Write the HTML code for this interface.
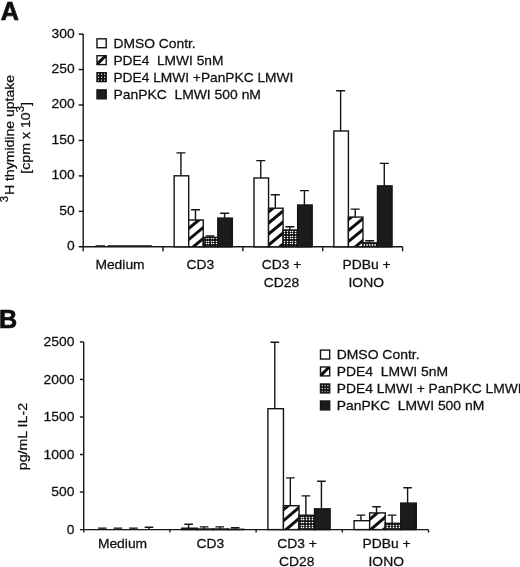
<!DOCTYPE html>
<html><head><meta charset="utf-8"><title>Figure</title>
<style>
html,body{margin:0;padding:0;background:#fff;}
body{width:520px;height:567px;overflow:hidden;}
svg{display:block;}
text{font-family:"Liberation Sans",Arial,Helvetica,sans-serif;fill:#111;stroke:#111;stroke-width:0.26px;}
</style></head><body>
<svg width="520" height="567" viewBox="0 0 520 567">
<defs>
<clipPath id="c0"><rect x="188.70" y="220.00" width="14.55" height="26.80"/></clipPath>
<clipPath id="c1"><rect x="268.55" y="208.20" width="14.55" height="38.60"/></clipPath>
<clipPath id="c2"><rect x="348.40" y="217.10" width="14.55" height="29.70"/></clipPath>
<clipPath id="c3"><rect x="197.25" y="529.00" width="15.55" height="0.60"/></clipPath>
<clipPath id="c4"><rect x="283.45" y="505.70" width="15.55" height="23.90"/></clipPath>
<clipPath id="c5"><rect x="369.65" y="512.90" width="15.55" height="16.70"/></clipPath>
<pattern id="dots" x="0" y="0" width="21" height="20" patternUnits="userSpaceOnUse"><rect width="21" height="20" fill="#111"/><g fill="#fff"><circle cx="1.5" cy="1.5" r="0.8"/><circle cx="3.5" cy="1.5" r="0.8"/><circle cx="6.5" cy="1.5" r="0.8"/><circle cx="9.5" cy="1.5" r="0.8"/><circle cx="11.5" cy="1.5" r="0.8"/><circle cx="14.5" cy="1.5" r="0.8"/><circle cx="17.5" cy="1.5" r="0.8"/><circle cx="19.5" cy="1.5" r="0.8"/><circle cx="1.5" cy="3.5" r="0.8"/><circle cx="3.5" cy="3.5" r="0.8"/><circle cx="6.5" cy="3.5" r="0.8"/><circle cx="9.5" cy="3.5" r="0.8"/><circle cx="11.5" cy="3.5" r="0.8"/><circle cx="14.5" cy="3.5" r="0.8"/><circle cx="17.5" cy="3.5" r="0.8"/><circle cx="19.5" cy="3.5" r="0.8"/><circle cx="1.5" cy="6.5" r="0.8"/><circle cx="3.5" cy="6.5" r="0.8"/><circle cx="6.5" cy="6.5" r="0.8"/><circle cx="9.5" cy="6.5" r="0.8"/><circle cx="11.5" cy="6.5" r="0.8"/><circle cx="14.5" cy="6.5" r="0.8"/><circle cx="17.5" cy="6.5" r="0.8"/><circle cx="19.5" cy="6.5" r="0.8"/><circle cx="1.5" cy="8.5" r="0.8"/><circle cx="3.5" cy="8.5" r="0.8"/><circle cx="6.5" cy="8.5" r="0.8"/><circle cx="9.5" cy="8.5" r="0.8"/><circle cx="11.5" cy="8.5" r="0.8"/><circle cx="14.5" cy="8.5" r="0.8"/><circle cx="17.5" cy="8.5" r="0.8"/><circle cx="19.5" cy="8.5" r="0.8"/><circle cx="1.5" cy="11.5" r="0.8"/><circle cx="3.5" cy="11.5" r="0.8"/><circle cx="6.5" cy="11.5" r="0.8"/><circle cx="9.5" cy="11.5" r="0.8"/><circle cx="11.5" cy="11.5" r="0.8"/><circle cx="14.5" cy="11.5" r="0.8"/><circle cx="17.5" cy="11.5" r="0.8"/><circle cx="19.5" cy="11.5" r="0.8"/><circle cx="1.5" cy="13.5" r="0.8"/><circle cx="3.5" cy="13.5" r="0.8"/><circle cx="6.5" cy="13.5" r="0.8"/><circle cx="9.5" cy="13.5" r="0.8"/><circle cx="11.5" cy="13.5" r="0.8"/><circle cx="14.5" cy="13.5" r="0.8"/><circle cx="17.5" cy="13.5" r="0.8"/><circle cx="19.5" cy="13.5" r="0.8"/><circle cx="1.5" cy="16.5" r="0.8"/><circle cx="3.5" cy="16.5" r="0.8"/><circle cx="6.5" cy="16.5" r="0.8"/><circle cx="9.5" cy="16.5" r="0.8"/><circle cx="11.5" cy="16.5" r="0.8"/><circle cx="14.5" cy="16.5" r="0.8"/><circle cx="17.5" cy="16.5" r="0.8"/><circle cx="19.5" cy="16.5" r="0.8"/><circle cx="1.5" cy="18.5" r="0.8"/><circle cx="3.5" cy="18.5" r="0.8"/><circle cx="6.5" cy="18.5" r="0.8"/><circle cx="9.5" cy="18.5" r="0.8"/><circle cx="11.5" cy="18.5" r="0.8"/><circle cx="14.5" cy="18.5" r="0.8"/><circle cx="17.5" cy="18.5" r="0.8"/><circle cx="19.5" cy="18.5" r="0.8"/></g></pattern>
<pattern id="dotsB" x="0" y="0" width="28" height="27" patternUnits="userSpaceOnUse"><rect width="28" height="27" fill="#111"/><g fill="#fff"><circle cx="1.5" cy="1.5" r="0.85"/><circle cx="4.5" cy="1.5" r="0.85"/><circle cx="7.5" cy="1.5" r="0.85"/><circle cx="9.5" cy="1.5" r="0.85"/><circle cx="12.5" cy="1.5" r="0.85"/><circle cx="15.5" cy="1.5" r="0.85"/><circle cx="18.5" cy="1.5" r="0.85"/><circle cx="21.5" cy="1.5" r="0.85"/><circle cx="23.5" cy="1.5" r="0.85"/><circle cx="26.5" cy="1.5" r="0.85"/><circle cx="1.5" cy="4.5" r="0.85"/><circle cx="4.5" cy="4.5" r="0.85"/><circle cx="7.5" cy="4.5" r="0.85"/><circle cx="9.5" cy="4.5" r="0.85"/><circle cx="12.5" cy="4.5" r="0.85"/><circle cx="15.5" cy="4.5" r="0.85"/><circle cx="18.5" cy="4.5" r="0.85"/><circle cx="21.5" cy="4.5" r="0.85"/><circle cx="23.5" cy="4.5" r="0.85"/><circle cx="26.5" cy="4.5" r="0.85"/><circle cx="1.5" cy="6.5" r="0.85"/><circle cx="4.5" cy="6.5" r="0.85"/><circle cx="7.5" cy="6.5" r="0.85"/><circle cx="9.5" cy="6.5" r="0.85"/><circle cx="12.5" cy="6.5" r="0.85"/><circle cx="15.5" cy="6.5" r="0.85"/><circle cx="18.5" cy="6.5" r="0.85"/><circle cx="21.5" cy="6.5" r="0.85"/><circle cx="23.5" cy="6.5" r="0.85"/><circle cx="26.5" cy="6.5" r="0.85"/><circle cx="1.5" cy="9.5" r="0.85"/><circle cx="4.5" cy="9.5" r="0.85"/><circle cx="7.5" cy="9.5" r="0.85"/><circle cx="9.5" cy="9.5" r="0.85"/><circle cx="12.5" cy="9.5" r="0.85"/><circle cx="15.5" cy="9.5" r="0.85"/><circle cx="18.5" cy="9.5" r="0.85"/><circle cx="21.5" cy="9.5" r="0.85"/><circle cx="23.5" cy="9.5" r="0.85"/><circle cx="26.5" cy="9.5" r="0.85"/><circle cx="1.5" cy="12.5" r="0.85"/><circle cx="4.5" cy="12.5" r="0.85"/><circle cx="7.5" cy="12.5" r="0.85"/><circle cx="9.5" cy="12.5" r="0.85"/><circle cx="12.5" cy="12.5" r="0.85"/><circle cx="15.5" cy="12.5" r="0.85"/><circle cx="18.5" cy="12.5" r="0.85"/><circle cx="21.5" cy="12.5" r="0.85"/><circle cx="23.5" cy="12.5" r="0.85"/><circle cx="26.5" cy="12.5" r="0.85"/><circle cx="1.5" cy="14.5" r="0.85"/><circle cx="4.5" cy="14.5" r="0.85"/><circle cx="7.5" cy="14.5" r="0.85"/><circle cx="9.5" cy="14.5" r="0.85"/><circle cx="12.5" cy="14.5" r="0.85"/><circle cx="15.5" cy="14.5" r="0.85"/><circle cx="18.5" cy="14.5" r="0.85"/><circle cx="21.5" cy="14.5" r="0.85"/><circle cx="23.5" cy="14.5" r="0.85"/><circle cx="26.5" cy="14.5" r="0.85"/><circle cx="1.5" cy="17.5" r="0.85"/><circle cx="4.5" cy="17.5" r="0.85"/><circle cx="7.5" cy="17.5" r="0.85"/><circle cx="9.5" cy="17.5" r="0.85"/><circle cx="12.5" cy="17.5" r="0.85"/><circle cx="15.5" cy="17.5" r="0.85"/><circle cx="18.5" cy="17.5" r="0.85"/><circle cx="21.5" cy="17.5" r="0.85"/><circle cx="23.5" cy="17.5" r="0.85"/><circle cx="26.5" cy="17.5" r="0.85"/><circle cx="1.5" cy="20.5" r="0.85"/><circle cx="4.5" cy="20.5" r="0.85"/><circle cx="7.5" cy="20.5" r="0.85"/><circle cx="9.5" cy="20.5" r="0.85"/><circle cx="12.5" cy="20.5" r="0.85"/><circle cx="15.5" cy="20.5" r="0.85"/><circle cx="18.5" cy="20.5" r="0.85"/><circle cx="21.5" cy="20.5" r="0.85"/><circle cx="23.5" cy="20.5" r="0.85"/><circle cx="26.5" cy="20.5" r="0.85"/><circle cx="1.5" cy="22.5" r="0.85"/><circle cx="4.5" cy="22.5" r="0.85"/><circle cx="7.5" cy="22.5" r="0.85"/><circle cx="9.5" cy="22.5" r="0.85"/><circle cx="12.5" cy="22.5" r="0.85"/><circle cx="15.5" cy="22.5" r="0.85"/><circle cx="18.5" cy="22.5" r="0.85"/><circle cx="21.5" cy="22.5" r="0.85"/><circle cx="23.5" cy="22.5" r="0.85"/><circle cx="26.5" cy="22.5" r="0.85"/><circle cx="1.5" cy="25.5" r="0.85"/><circle cx="4.5" cy="25.5" r="0.85"/><circle cx="7.5" cy="25.5" r="0.85"/><circle cx="9.5" cy="25.5" r="0.85"/><circle cx="12.5" cy="25.5" r="0.85"/><circle cx="15.5" cy="25.5" r="0.85"/><circle cx="18.5" cy="25.5" r="0.85"/><circle cx="21.5" cy="25.5" r="0.85"/><circle cx="23.5" cy="25.5" r="0.85"/><circle cx="26.5" cy="25.5" r="0.85"/></g></pattern>
<filter id="soft" x="0" y="0" width="520" height="567" filterUnits="userSpaceOnUse"><feGaussianBlur stdDeviation="0.38"/></filter>
</defs>
<rect width="520" height="567" fill="#fff"/>
<g filter="url(#soft)">

<text x="0.8" y="20.2" font-size="25.2" font-weight="bold" style="stroke-width:0.7px">A</text>
<path d="M83.2 34.1V251.3M78.7 246.8H402.60" stroke="#141414" stroke-width="1.4" fill="none"/>
<text transform="translate(74.60 250.20) scale(1.05 1)" font-size="13.2" text-anchor="end" xml:space="preserve">0</text>
<path d="M78.7 211.35H83.2" stroke="#141414" stroke-width="1.4"/>
<text transform="translate(74.60 214.75) scale(1.05 1)" font-size="13.2" text-anchor="end" xml:space="preserve">50</text>
<path d="M78.7 175.90H83.2" stroke="#141414" stroke-width="1.4"/>
<text transform="translate(74.60 179.30) scale(1.05 1)" font-size="13.2" text-anchor="end" xml:space="preserve">100</text>
<path d="M78.7 140.45H83.2" stroke="#141414" stroke-width="1.4"/>
<text transform="translate(74.60 143.85) scale(1.05 1)" font-size="13.2" text-anchor="end" xml:space="preserve">150</text>
<path d="M78.7 105.00H83.2" stroke="#141414" stroke-width="1.4"/>
<text transform="translate(74.60 108.40) scale(1.05 1)" font-size="13.2" text-anchor="end" xml:space="preserve">200</text>
<path d="M78.7 69.55H83.2" stroke="#141414" stroke-width="1.4"/>
<text transform="translate(74.60 72.95) scale(1.05 1)" font-size="13.2" text-anchor="end" xml:space="preserve">250</text>
<path d="M78.7 34.10H83.2" stroke="#141414" stroke-width="1.4"/>
<text transform="translate(74.60 37.50) scale(1.05 1)" font-size="13.2" text-anchor="end" xml:space="preserve">300</text>
<path d="M163.05 246.8V251.3" stroke="#141414" stroke-width="1.4"/>
<path d="M242.90 246.8V251.3" stroke="#141414" stroke-width="1.4"/>
<path d="M322.75 246.8V251.3" stroke="#141414" stroke-width="1.4"/>
<path d="M402.60 246.8V251.3" stroke="#141414" stroke-width="1.4"/>
<path d="M180.93 175.80V152.90M176.43 152.90H185.43" stroke="#141414" stroke-width="1.4" fill="none"/>
<rect x="174.15" y="175.80" width="14.55" height="71.00" fill="#fff" stroke="#141414" stroke-width="1.4"/>
<path d="M195.48 220.00V209.70M190.98 209.70H199.98" stroke="#141414" stroke-width="1.4" fill="none"/>
<rect x="188.70" y="220.00" width="14.55" height="26.80" fill="#fff"/><path d="M185.70 208.92L206.25 191.98M185.70 219.94L206.25 203.00M185.70 230.96L206.25 214.02M185.70 241.97L206.25 225.03M185.70 252.99L206.25 236.05M185.70 264.00L206.25 247.06M185.70 275.02L206.25 258.08" stroke="#111" stroke-width="3.0" fill="none" clip-path="url(#c0)"/><rect x="188.70" y="220.00" width="14.55" height="26.80" fill="none" stroke="#141414" stroke-width="1.4"/>
<path d="M210.03 237.40V236.00M205.53 236.00H214.53" stroke="#141414" stroke-width="1.4" fill="none"/>
<rect x="203.25" y="237.40" width="14.55" height="9.40" fill="url(#dots)" stroke="#141414" stroke-width="1.4"/>
<path d="M224.58 218.10V213.30M220.08 213.30H229.08" stroke="#141414" stroke-width="1.4" fill="none"/>
<rect x="217.80" y="218.10" width="14.55" height="28.70" fill="#1a1a1a" stroke="#141414" stroke-width="1.4"/>
<path d="M260.77 178.00V160.60M256.27 160.60H265.27" stroke="#141414" stroke-width="1.4" fill="none"/>
<rect x="254.00" y="178.00" width="14.55" height="68.80" fill="#fff" stroke="#141414" stroke-width="1.4"/>
<path d="M275.32 208.20V194.70M270.82 194.70H279.82" stroke="#141414" stroke-width="1.4" fill="none"/>
<rect x="268.55" y="208.20" width="14.55" height="38.60" fill="#fff"/><path d="M265.55 192.41L286.10 175.47M265.55 203.43L286.10 186.49M265.55 214.45L286.10 197.51M265.55 225.46L286.10 208.52M265.55 236.48L286.10 219.54M265.55 247.49L286.10 230.55M265.55 258.51L286.10 241.57M265.55 269.52L286.10 252.58M265.55 280.54L286.10 263.60" stroke="#111" stroke-width="3.0" fill="none" clip-path="url(#c1)"/><rect x="268.55" y="208.20" width="14.55" height="38.60" fill="none" stroke="#141414" stroke-width="1.4"/>
<path d="M289.87 230.00V226.70M285.37 226.70H294.37" stroke="#141414" stroke-width="1.4" fill="none"/>
<rect x="283.10" y="230.00" width="14.55" height="16.80" fill="url(#dots)" stroke="#141414" stroke-width="1.4"/>
<path d="M304.42 205.00V190.60M299.92 190.60H308.92" stroke="#141414" stroke-width="1.4" fill="none"/>
<rect x="297.65" y="205.00" width="14.55" height="41.80" fill="#1a1a1a" stroke="#141414" stroke-width="1.4"/>
<path d="M340.62 131.00V90.70M336.12 90.70H345.12" stroke="#141414" stroke-width="1.4" fill="none"/>
<rect x="333.85" y="131.00" width="14.55" height="115.80" fill="#fff" stroke="#141414" stroke-width="1.4"/>
<path d="M355.18 217.10V209.10M350.68 209.10H359.68" stroke="#141414" stroke-width="1.4" fill="none"/>
<rect x="348.40" y="217.10" width="14.55" height="29.70" fill="#fff"/><path d="M345.40 199.96L365.95 183.02M345.40 210.97L365.95 194.03M345.40 221.99L365.95 205.05M345.40 233.00L365.95 216.06M345.40 244.02L365.95 227.08M345.40 255.03L365.95 238.09M345.40 266.05L365.95 249.11M345.40 277.07L365.95 260.13" stroke="#111" stroke-width="3.0" fill="none" clip-path="url(#c2)"/><rect x="348.40" y="217.10" width="14.55" height="29.70" fill="none" stroke="#141414" stroke-width="1.4"/>
<path d="M369.73 242.80V240.70M365.23 240.70H374.23" stroke="#141414" stroke-width="1.4" fill="none"/>
<rect x="362.95" y="242.80" width="14.55" height="4.00" fill="#111" stroke="#141414" stroke-width="1.4"/><circle cx="364.37" cy="244.90" r="0.85" fill="#fff"/><circle cx="367.05" cy="244.90" r="0.85" fill="#fff"/><circle cx="369.73" cy="244.90" r="0.85" fill="#fff"/><circle cx="372.41" cy="244.90" r="0.85" fill="#fff"/><circle cx="375.09" cy="244.90" r="0.85" fill="#fff"/>
<path d="M384.27 185.90V163.40M379.77 163.40H388.77" stroke="#141414" stroke-width="1.4" fill="none"/>
<rect x="377.50" y="185.90" width="14.55" height="60.90" fill="#1a1a1a" stroke="#141414" stroke-width="1.4"/>
<path d="M95.6 246.0H105M107.7 246.0H151.8" stroke="#141414" stroke-width="1.6"/>
<rect x="97.00" y="38.80" width="9.20" height="8.90" fill="#fff" stroke="#141414" stroke-width="1.4"/>
<text transform="translate(113.40 48.30) scale(1.05 1)" font-size="13.2" text-anchor="start" xml:space="preserve">DMSO Contr.</text>
<rect x="97.00" y="55.70" width="9.20" height="8.90" fill="#fff" stroke="#141414" stroke-width="1.4"/>
<path d="M97.00 64.60L97.00 62.10L103.60 55.70L106.20 55.70L106.20 57.20L99.00 64.60Z" fill="#111"/>
<text transform="translate(113.40 65.30) scale(1.043 1)" font-size="13.2" text-anchor="start" xml:space="preserve">PDE4  LMWI 5nM</text>
<rect x="97.00" y="72.70" width="9.20" height="8.90" fill="#111" stroke="#141414" stroke-width="1.4"/>
<circle cx="98.65" cy="74.20" r="0.62" fill="#fff"/>
<circle cx="98.65" cy="77.15" r="0.62" fill="#fff"/>
<circle cx="98.65" cy="80.10" r="0.62" fill="#fff"/>
<circle cx="101.60" cy="74.20" r="0.62" fill="#fff"/>
<circle cx="101.60" cy="77.15" r="0.62" fill="#fff"/>
<circle cx="101.60" cy="80.10" r="0.62" fill="#fff"/>
<circle cx="104.55" cy="74.20" r="0.62" fill="#fff"/>
<circle cx="104.55" cy="77.15" r="0.62" fill="#fff"/>
<circle cx="104.55" cy="80.10" r="0.62" fill="#fff"/>
<text transform="translate(113.40 82.20) scale(1.043 1)" font-size="13.2" text-anchor="start" xml:space="preserve">PDE4 LMWI +PanPKC LMWI</text>
<rect x="97.00" y="89.90" width="9.20" height="8.90" fill="#1a1a1a" stroke="#141414" stroke-width="1.4"/>
<text transform="translate(113.40 99.10) scale(1.054 1)" font-size="13.2" text-anchor="start" xml:space="preserve">PanPKC  LMWI 500 nM</text>
<text transform="translate(120.00 268.90) scale(1.05 1)" font-size="13.2" text-anchor="middle" xml:space="preserve">Medium</text>
<text transform="translate(200.30 268.90) scale(1.05 1)" font-size="13.2" text-anchor="middle" xml:space="preserve">CD3</text>
<text transform="translate(281.60 268.70) scale(1.05 1)" font-size="13.2" text-anchor="middle" xml:space="preserve">CD3 +</text>
<text transform="translate(281.40 286.60) scale(1.05 1)" font-size="13.2" text-anchor="middle" xml:space="preserve">CD28</text>
<text transform="translate(366.60 268.70) scale(1.05 1)" font-size="13.2" text-anchor="middle" xml:space="preserve">PDBu +</text>
<text transform="translate(366.20 286.60) scale(1.05 1)" font-size="13.2" text-anchor="middle" xml:space="preserve">IONO</text>
<text transform="translate(13.60 138.60) rotate(-90) scale(1.066 1)" font-size="13.2" text-anchor="middle" xml:space="preserve"><tspan font-size="10.6" dy="-6">3</tspan><tspan dy="6" dx="0.9">H thymidine uptake</tspan></text>
<text transform="translate(30.00 137.90) rotate(-90) scale(1.075 1)" font-size="13.2" text-anchor="middle" xml:space="preserve">[cpm x 10<tspan font-size="10.6" dy="-6">3</tspan><tspan dy="6">]</tspan></text>
<text x="-1.0" y="327.8" font-size="25.2" font-weight="bold" style="stroke-width:0.7px">B</text>
<path d="M83.7 341.9V532.6M79.9 529.6H428.50" stroke="#141414" stroke-width="1.4" fill="none"/>
<text transform="translate(74.40 533.90) scale(1.05 1)" font-size="13.2" text-anchor="end" xml:space="preserve">0</text>
<path d="M79.9 492.06H83.7" stroke="#141414" stroke-width="1.4"/>
<text transform="translate(74.40 496.36) scale(1.05 1)" font-size="13.2" text-anchor="end" xml:space="preserve">500</text>
<path d="M79.9 454.52H83.7" stroke="#141414" stroke-width="1.4"/>
<text transform="translate(74.40 458.82) scale(1.05 1)" font-size="13.2" text-anchor="end" xml:space="preserve">1000</text>
<path d="M79.9 416.98H83.7" stroke="#141414" stroke-width="1.4"/>
<text transform="translate(74.40 421.28) scale(1.05 1)" font-size="13.2" text-anchor="end" xml:space="preserve">1500</text>
<path d="M79.9 379.44H83.7" stroke="#141414" stroke-width="1.4"/>
<text transform="translate(74.40 383.74) scale(1.05 1)" font-size="13.2" text-anchor="end" xml:space="preserve">2000</text>
<path d="M79.9 341.90H83.7" stroke="#141414" stroke-width="1.4"/>
<text transform="translate(74.40 346.20) scale(1.05 1)" font-size="13.2" text-anchor="end" xml:space="preserve">2500</text>
<path d="M169.90 529.6V532.6" stroke="#141414" stroke-width="1.4"/>
<path d="M256.10 529.6V532.6" stroke="#141414" stroke-width="1.4"/>
<path d="M342.30 529.6V532.6" stroke="#141414" stroke-width="1.4"/>
<path d="M428.50 529.6V532.6" stroke="#141414" stroke-width="1.4"/>
<path d="M102.38 529.30V528.10M98.08 528.10H106.67" stroke="#141414" stroke-width="1.4" fill="none"/>
<path d="M117.92 529.30V528.10M113.62 528.10H122.22" stroke="#141414" stroke-width="1.4" fill="none"/>
<path d="M133.47 529.30V528.10M129.17 528.10H137.78" stroke="#141414" stroke-width="1.4" fill="none"/>
<path d="M149.03 529.10V527.30M144.72 527.30H153.33" stroke="#141414" stroke-width="1.4" fill="none"/>
<path d="M188.58 528.20V524.30M184.28 524.30H192.88" stroke="#141414" stroke-width="1.4" fill="none"/>
<rect x="181.70" y="528.20" width="15.55" height="1.40" fill="#fff" stroke="#141414" stroke-width="1.4"/>
<path d="M204.13 529.00V526.90M199.83 526.90H208.43" stroke="#141414" stroke-width="1.4" fill="none"/>
<rect x="197.25" y="529.00" width="15.55" height="0.60" fill="#fff"/><path d="M194.25 520.06L215.80 501.65M194.25 531.04L215.80 512.64M194.25 542.02L215.80 523.62M194.25 553.00L215.80 534.60M194.25 563.98L215.80 545.58" stroke="#111" stroke-width="3.0" fill="none" clip-path="url(#c3)"/><rect x="197.25" y="529.00" width="15.55" height="0.60" fill="none" stroke="#141414" stroke-width="1.4"/>
<path d="M219.68 529.00V526.90M215.38 526.90H223.98" stroke="#141414" stroke-width="1.4" fill="none"/>
<rect x="212.80" y="529.00" width="15.55" height="0.60" fill="url(#dotsB)" stroke="#141414" stroke-width="1.4"/>
<path d="M235.23 529.30V527.70M230.93 527.70H239.53" stroke="#141414" stroke-width="1.4" fill="none"/>
<rect x="228.35" y="529.30" width="15.55" height="0.30" fill="#1a1a1a" stroke="#141414" stroke-width="1.4"/>
<path d="M274.78 408.70V342.30M270.48 342.30H279.08" stroke="#141414" stroke-width="1.4" fill="none"/>
<rect x="267.90" y="408.70" width="15.55" height="120.90" fill="#fff" stroke="#141414" stroke-width="1.4"/>
<path d="M290.33 505.70V477.90M286.03 477.90H294.63" stroke="#141414" stroke-width="1.4" fill="none"/>
<rect x="283.45" y="505.70" width="15.55" height="23.90" fill="#fff"/><path d="M280.45 490.36L302.00 471.96M280.45 501.34L302.00 482.94M280.45 512.32L302.00 493.92M280.45 523.30L302.00 504.90M280.45 534.29L302.00 515.88M280.45 545.27L302.00 526.86M280.45 556.25L302.00 537.84M280.45 567.23L302.00 548.82" stroke="#111" stroke-width="3.0" fill="none" clip-path="url(#c4)"/><rect x="283.45" y="505.70" width="15.55" height="23.90" fill="none" stroke="#141414" stroke-width="1.4"/>
<path d="M305.88 515.20V495.90M301.58 495.90H310.18" stroke="#141414" stroke-width="1.4" fill="none"/>
<rect x="299.00" y="515.20" width="15.55" height="14.40" fill="url(#dotsB)" stroke="#141414" stroke-width="1.4"/>
<path d="M321.43 508.80V481.20M317.13 481.20H325.73" stroke="#141414" stroke-width="1.4" fill="none"/>
<rect x="314.55" y="508.80" width="15.55" height="20.80" fill="#1a1a1a" stroke="#141414" stroke-width="1.4"/>
<path d="M360.98 520.70V515.10M356.68 515.10H365.28" stroke="#141414" stroke-width="1.4" fill="none"/>
<rect x="354.10" y="520.70" width="15.55" height="8.90" fill="#fff" stroke="#141414" stroke-width="1.4"/>
<path d="M376.53 512.90V506.80M372.23 506.80H380.83" stroke="#141414" stroke-width="1.4" fill="none"/>
<rect x="369.65" y="512.90" width="15.55" height="16.70" fill="#fff"/><path d="M366.65 500.07L388.20 481.67M366.65 511.05L388.20 492.65M366.65 522.03L388.20 503.63M366.65 533.02L388.20 514.61M366.65 544.00L388.20 525.59M366.65 554.98L388.20 536.57M366.65 565.96L388.20 547.55" stroke="#111" stroke-width="3.0" fill="none" clip-path="url(#c5)"/><rect x="369.65" y="512.90" width="15.55" height="16.70" fill="none" stroke="#141414" stroke-width="1.4"/>
<path d="M392.08 523.30V515.10M387.78 515.10H396.38" stroke="#141414" stroke-width="1.4" fill="none"/>
<rect x="385.20" y="523.30" width="15.55" height="6.30" fill="url(#dotsB)" stroke="#141414" stroke-width="1.4"/>
<path d="M407.62 503.10V487.80M403.32 487.80H411.93" stroke="#141414" stroke-width="1.4" fill="none"/>
<rect x="400.75" y="503.10" width="15.55" height="26.50" fill="#1a1a1a" stroke="#141414" stroke-width="1.4"/>
<rect x="320.50" y="350.10" width="9.20" height="8.90" fill="#fff" stroke="#141414" stroke-width="1.4"/>
<text transform="translate(336.70 359.10) scale(1.056 1)" font-size="13.2" text-anchor="start" xml:space="preserve">DMSO Contr.</text>
<rect x="320.50" y="367.00" width="9.20" height="8.90" fill="#fff" stroke="#141414" stroke-width="1.4"/>
<path d="M320.50 375.90L320.50 373.40L327.10 367.00L329.70 367.00L329.70 368.50L322.50 375.90Z" fill="#111"/>
<text transform="translate(336.70 376.00) scale(1.056 1)" font-size="13.2" text-anchor="start" xml:space="preserve">PDE4  LMWI 5nM</text>
<rect x="320.50" y="384.00" width="9.20" height="8.90" fill="#111" stroke="#141414" stroke-width="1.4"/>
<circle cx="322.30" cy="385.65" r="0.62" fill="#fff"/>
<circle cx="322.30" cy="388.45" r="0.62" fill="#fff"/>
<circle cx="322.30" cy="391.25" r="0.62" fill="#fff"/>
<circle cx="325.10" cy="385.65" r="0.62" fill="#fff"/>
<circle cx="325.10" cy="388.45" r="0.62" fill="#fff"/>
<circle cx="325.10" cy="391.25" r="0.62" fill="#fff"/>
<circle cx="327.90" cy="385.65" r="0.62" fill="#fff"/>
<circle cx="327.90" cy="388.45" r="0.62" fill="#fff"/>
<circle cx="327.90" cy="391.25" r="0.62" fill="#fff"/>
<text transform="translate(336.70 392.90) scale(1.05 1)" font-size="13.2" text-anchor="start" xml:space="preserve">PDE4 LMWI + PanPKC LMWI</text>
<rect x="320.50" y="401.00" width="9.20" height="8.90" fill="#1a1a1a" stroke="#141414" stroke-width="1.4"/>
<text transform="translate(336.70 409.80) scale(1.054 1)" font-size="13.2" text-anchor="start" xml:space="preserve">PanPKC  LMWI 500 nM</text>
<text transform="translate(122.50 548.20) scale(1.05 1)" font-size="13.2" text-anchor="middle" xml:space="preserve">Medium</text>
<text transform="translate(210.40 548.20) scale(1.05 1)" font-size="13.2" text-anchor="middle" xml:space="preserve">CD3</text>
<text transform="translate(297.10 548.20) scale(1.05 1)" font-size="13.2" text-anchor="middle" xml:space="preserve">CD3 +</text>
<text transform="translate(296.80 565.70) scale(1.05 1)" font-size="13.2" text-anchor="middle" xml:space="preserve">CD28</text>
<text transform="translate(386.60 548.20) scale(1.05 1)" font-size="13.2" text-anchor="middle" xml:space="preserve">PDBu +</text>
<text transform="translate(386.20 565.70) scale(1.05 1)" font-size="13.2" text-anchor="middle" xml:space="preserve">IONO</text>
<text transform="translate(26.80 436.60) rotate(-90) scale(1.075 1)" font-size="13.2" text-anchor="middle" xml:space="preserve">pg/mL IL-2</text>
</g></svg></body></html>
